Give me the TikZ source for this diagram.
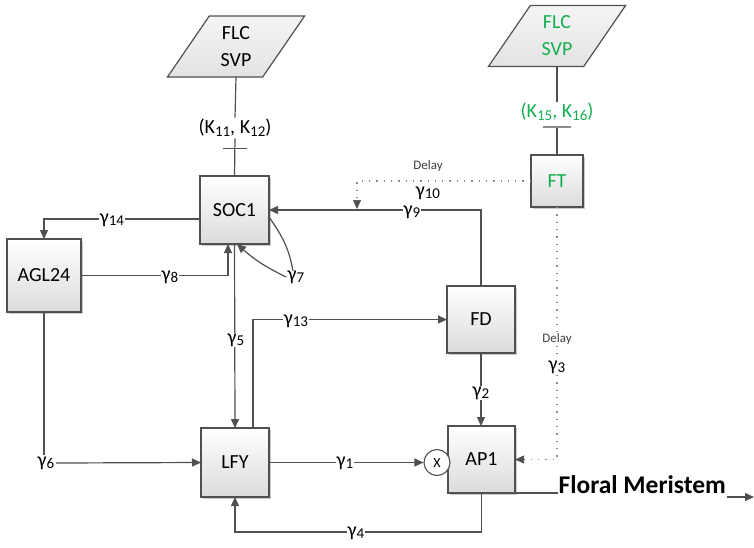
\documentclass[tikz,border=0pt]{standalone}
\usepackage{fontspec}
\setmainfont{Carlito}
\usetikzlibrary{arrows.meta,shapes.geometric,shadows,calc}
\definecolor{ln}{RGB}{80,80,80}
\definecolor{grn}{RGB}{20,175,80}
\newcommand\sbs[1]{\raisebox{-2.5pt}{\fontsize{15}{15}\selectfont #1}}
\begin{document}
\begin{tikzpicture}[x=1pt,y=-1pt,
  font=\fontsize{20}{24}\selectfont,
  line width=1.2pt, draw=ln,
  tip/.style={-{Triangle[length=9pt,width=8pt]}},
  box/.style={draw=ln, line width=1.2pt, top color=white, bottom color=black!14,
    outer sep=0pt, inner sep=0pt,
    drop shadow={shadow xshift=1.5pt,shadow yshift=-1.5pt,fill=black!40,opacity=.5}},
  para/.style={trapezium, trapezium left angle=59, trapezium right angle=121,
    trapezium stretches=true, minimum width=138pt, minimum height=61pt,
    draw=ln, line width=1.2pt, top color=white!96!black, bottom color=black!11,
    align=center, inner sep=0pt, outer sep=0pt, font=\fontsize{20}{27}\selectfont},
  lab/.style={fill=white, inner sep=1pt},
  small/.style={font=\fontsize{13}{15}\selectfont, text=black!75, fill=white, inner sep=1pt},
  dot/.style={draw=black!45, line width=1.3pt, dash pattern=on 1.3pt off 6pt},
]
\useasboundingbox (0,0) rectangle (754,547);

% nodes
\node[para] (flc1) at (236,46.5) {FLC\\SVP};
\node[para, text=grn] (flc2) at (557,36) {FLC\\SVP};
\node[box, minimum width=69pt, minimum height=68pt] (soc) at (234.5,210) {SOC1};
\node[box, minimum width=74pt, minimum height=73pt] (agl) at (44,275.5) {AGL24};
\node[box, minimum width=52pt, minimum height=52pt, text=grn] (ft) at (557,181) {FT};
\node[box, minimum width=68pt, minimum height=67pt] (fd) at (481,319.5) {FD};
\node[box, minimum width=68pt, minimum height=69pt] (lfy) at (235,462.5) {LFY};
\node[box, minimum width=67pt, minimum height=67pt] (ap) at (481.5,459.5) {AP1};
\node[draw=ln, line width=1.1pt, circle, fill=white, minimum size=26pt, inner sep=0pt,
  font=\fontsize{14}{16}\selectfont] (x) at (437,462.5) {X};

\node[inner sep=1pt] (k1) at (235,128) {(K\sbs{11}, K\sbs{12})};
\node[inner sep=1pt, text=grn] (k2) at (557,112) {(K\sbs{15}, K\sbs{16})};

% FLC connectors
\draw (flc1.south) -- (k1.north);
\draw (k1.south) -- (soc.north);
\draw ($(k1.south)+(-12,10)$) -- ($(k1.south)+(12,10)$);
\draw (flc2.south) -- (k2.north);
\draw (ft.north) -- ($(ft.north)+(0,-28)$) coordinate (k2bar);
\draw[draw=black!45] ($(k2bar)+(-14,0)$) -- ($(k2bar)+(14,0)$);

% gamma 14
\draw[tip] ($(soc.west)+(0,9)$) -| (agl.north);
\node[lab] (g14) at (112,220) {γ\sbs{14}};
% gamma 8
\draw[tip] (agl.east) -| ($(soc.south)+(-6.5,0)$);
\node[lab] (g8) at (170,277) {γ\sbs{8}};
% gamma 7
\node[inner sep=1pt] (g7) at (296,277) {γ\sbs{7}};
\draw ($(g7.north)+(-3,2)$) to[out=100,in=-55] ($(soc.east)+(0,7)$);
\draw[tip] (g7.west) to[bend left=8] ($(soc.south)+(2.5,0)$);
% gamma 9
\draw[tip] (fd.north) |- (soc.east);
\node[lab] (g9) at (412,212) {γ\sbs{9}};
% delay gamma 10
\coordinate (d1) at (357,209);
\draw[dot] (ft.west) -| ($(d1)+(0,-6)$);
\draw[-{Triangle[length=9pt,width=8pt]}, draw=ln, line width=0.6pt] ($(d1)+(0,-8)$) -- (d1);
\node[small] (dl1) at (428,166) {Delay};
\node[inner sep=1pt] (g10) at (428,193) {γ\sbs{10}};
% gamma 5
\draw[tip] (soc.south) -- (lfy.north);
\node[lab] (g5) at (236,340) {γ\sbs{5}};
% gamma 13
\draw[tip] ($(lfy.north)+(18,0)$) |- (fd.west);
\node[lab] (g13) at (296,321) {γ\sbs{13}};
% gamma 2
\draw[tip] (fd.south) -- (ap.north -| fd.south);
\node[lab] (g2) at (481,393) {γ\sbs{2}};
% gamma 6
\node[inner sep=1pt] (g6) at (46,463) {γ\sbs{6}};
\draw (agl.south) -- (agl.south |- g6.north);
\draw[tip] (g6.east) -- (lfy.west);
% gamma 1
\draw[tip] (lfy.east) -- (x.west);
\node[lab] (g1) at (345,463) {γ\sbs{1}};
% gamma 4
\draw[tip] (ap.south) -- ++(0,39) -| (lfy.south);
\node[lab] (g4) at (356,533) {γ\sbs{4}};
% delay gamma 3
\draw[dot] (ft.south) |- ($(ap.east)+(9,0)$);
\draw[-{Triangle[length=9pt,width=8pt]}, draw=ln, line width=0.6pt] ($(ap.east)+(9,0)$) -- (ap.east);
\node[small] (dl2) at (557,339) {Delay};
\node[lab] (g3) at (557,367) {γ\sbs{3}};

% Floral meristem
\node[anchor=base west, inner sep=0pt, font=\bfseries\fontsize{25.5}{30}\selectfont] (fm) at (558,493) {Floral Meristem};
\draw (ap.south east) -- (fm.base west);
\coordinate (fmend) at (754,497);
\draw[tip] ($(fm.base east)+(1,4)$) -- (fmend);
\end{tikzpicture}
\end{document}
